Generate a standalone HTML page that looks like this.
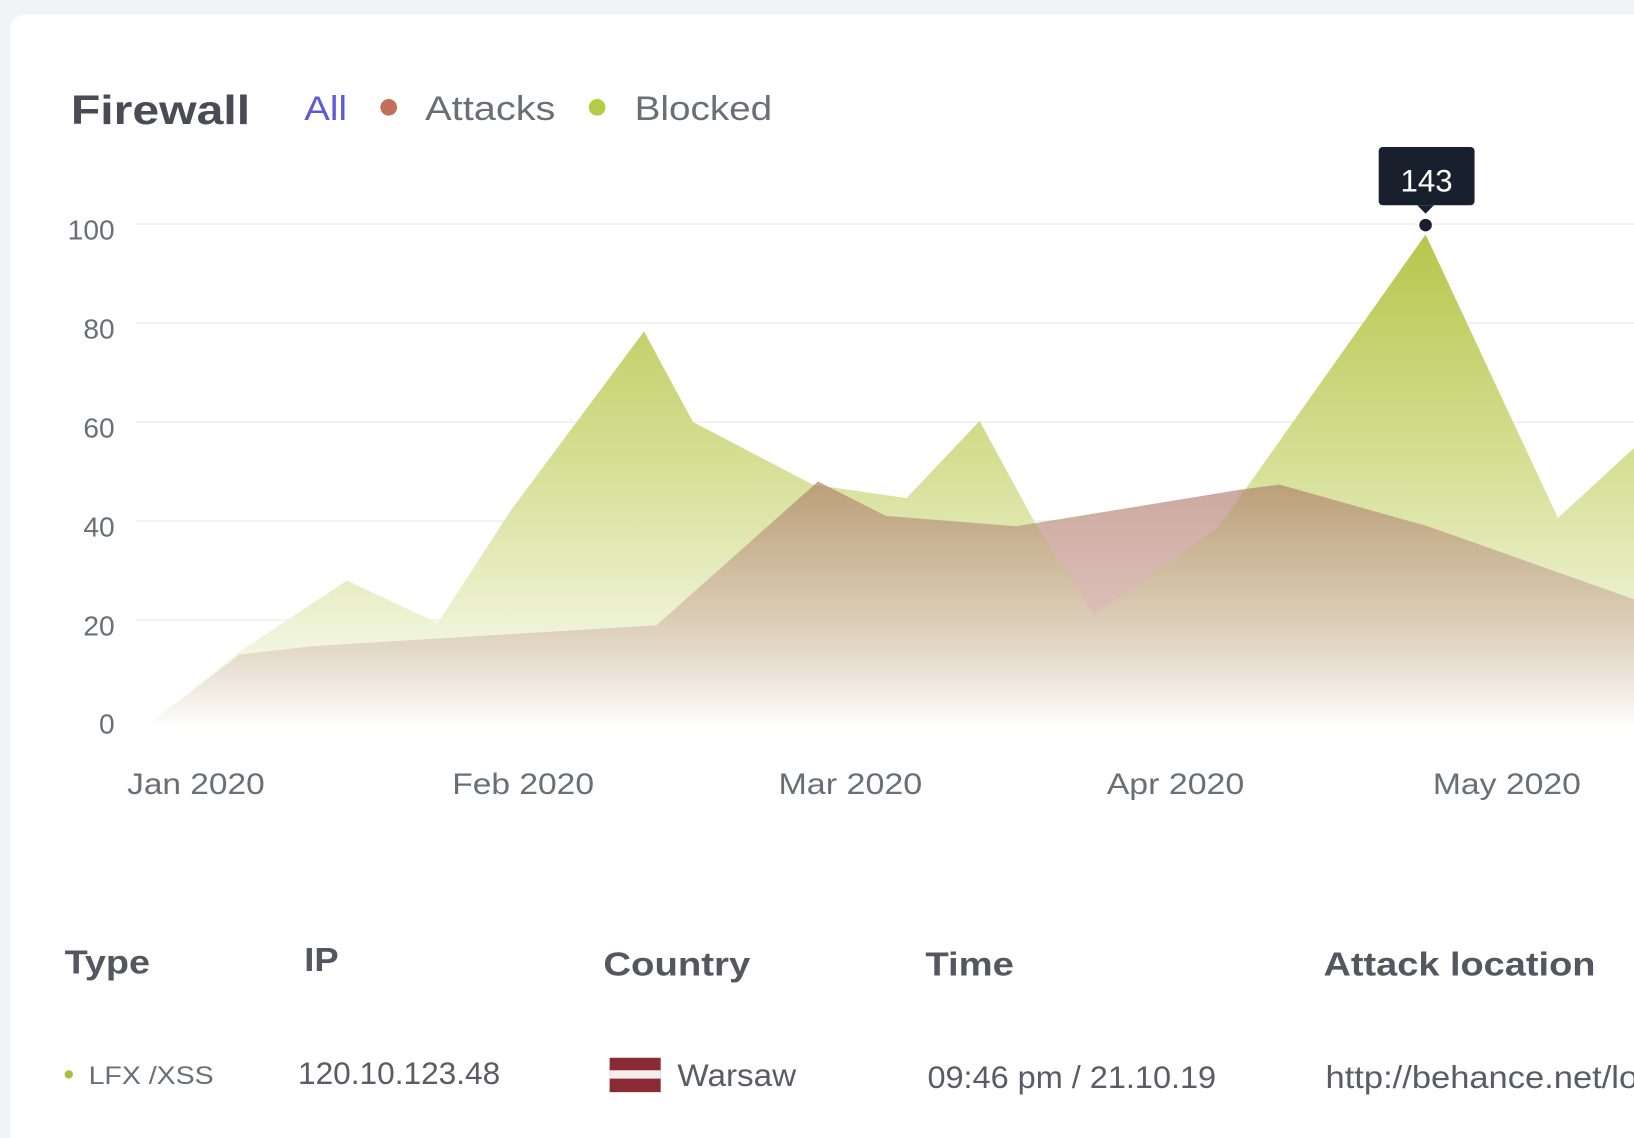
<!DOCTYPE html>
<html><head><meta charset="utf-8"><style>
html,body{margin:0;padding:0;background:#f2f3f5;}
svg{display:block}
</style></head><body>
<svg width="1634" height="1138" viewBox="0 0 1568 1092" preserveAspectRatio="none" xmlns="http://www.w3.org/2000/svg" font-family="Liberation Sans, sans-serif">
<defs>
<linearGradient id="gy" gradientUnits="userSpaceOnUse" x1="0" y1="220" x2="0" y2="700">
<stop offset="0" stop-color="#b5c64a"/><stop offset="0.5" stop-color="#d7e19a"/><stop offset="1" stop-color="#ffffff"/></linearGradient>
<linearGradient id="b" gradientUnits="userSpaceOnUse" x1="0" y1="460" x2="0" y2="700">
<stop offset="0" stop-color="#b0876c" stop-opacity="0.75"/><stop offset="0.55" stop-color="#d2bca8" stop-opacity="0.7"/><stop offset="1" stop-color="#ffffff" stop-opacity="0.9"/></linearGradient>
</defs>
<rect x="10" y="14" width="1580" height="1100" rx="14" fill="#ffffff"/>
<text x="68" y="119" font-size="39" font-weight="bold" fill="#4a4b55" textLength="172" lengthAdjust="spacingAndGlyphs">Firewall</text>
<text x="292" y="115" font-size="33" fill="#5b5bd6" textLength="41" lengthAdjust="spacingAndGlyphs">All</text>
<circle cx="373" cy="103" r="8" fill="#c0705a"/>
<text x="408" y="115" font-size="33" fill="#6b6d78" textLength="125" lengthAdjust="spacingAndGlyphs">Attacks</text>
<circle cx="573" cy="103" r="8" fill="#b3cc45"/>
<text x="609" y="115" font-size="33" fill="#6b6d78" textLength="132" lengthAdjust="spacingAndGlyphs">Blocked</text>
<g stroke="#f1f2f4" stroke-width="2">
<line x1="130" y1="215" x2="1568" y2="215"/><line x1="130" y1="310" x2="1568" y2="310"/>
<line x1="130" y1="405" x2="1568" y2="405"/><line x1="130" y1="500" x2="1568" y2="500"/>
<line x1="130" y1="595" x2="1568" y2="595"/>
</g>
<g font-size="27" fill="#6b6d78" text-anchor="end">
<text x="110" y="230">100</text><text x="110" y="325">80</text><text x="110" y="420">60</text>
<text x="110" y="515">40</text><text x="110" y="610">20</text><text x="110" y="704">0</text>
</g>
<path d="M145,693 L230,625 L333,557 L420,598 L490,490 L618,318 L665,405 L780,465 L870,478 L940,404 L995,505 L1050,590 L1170,505 L1368,225 L1495,497 L1568,430 L1568,700 L145,700Z" fill="url(#gy)"/>
<path d="M145,693 L230,628 L300,620 L630,600 L785,462 L850,495 L975,505 L1190,470 L1228,465 L1370,505 L1568,575 L1568,700 L145,700Z" fill="url(#b)"/>
<path d="M995,505 L1050,590 L1170,505 L1190,470 Z" fill="#d8aab0" opacity="0.45"/>
<g font-size="28" fill="#6b6d78" text-anchor="middle" lengthAdjust="spacingAndGlyphs">
<text x="188" y="762" textLength="132" lengthAdjust="spacingAndGlyphs">Jan 2020</text><text x="502" y="762" textLength="136" lengthAdjust="spacingAndGlyphs">Feb 2020</text><text x="816" y="762" textLength="138" lengthAdjust="spacingAndGlyphs">Mar 2020</text>
<text x="1128" y="762" textLength="132" lengthAdjust="spacingAndGlyphs">Apr 2020</text><text x="1446" y="762" textLength="142" lengthAdjust="spacingAndGlyphs">May 2020</text>
</g>
<rect x="1323" y="141" width="92" height="56" rx="4" fill="#18202e"/>
<path d="M1360,197 L1368,205 L1376,197Z" fill="#18202e"/>
<text x="1369" y="184" font-size="30" fill="#fff" text-anchor="middle">143</text>
<circle cx="1368" cy="216" r="7" fill="#18202e" stroke="#fff" stroke-width="2"/>
<g font-size="32" font-weight="bold" fill="#55565f">
<text x="62" y="934" textLength="82" lengthAdjust="spacingAndGlyphs">Type</text><text x="292" y="932" textLength="33" lengthAdjust="spacingAndGlyphs">IP</text><text x="579" y="936" textLength="141" lengthAdjust="spacingAndGlyphs">Country</text>
<text x="888" y="936" textLength="85" lengthAdjust="spacingAndGlyphs">Time</text><text x="1270" y="936" textLength="261" lengthAdjust="spacingAndGlyphs">Attack location</text>
</g>
<circle cx="66" cy="1031" r="4" fill="#a8c040"/>
<text x="85" y="1040" font-size="24" fill="#6b6d78" textLength="120" lengthAdjust="spacingAndGlyphs">LFX /XSS</text>
<g font-size="30" fill="#5a5b65">
<text x="286" y="1040" textLength="194" lengthAdjust="spacingAndGlyphs">120.10.123.48</text>
<text x="650" y="1042" textLength="114" lengthAdjust="spacingAndGlyphs">Warsaw</text>
<text x="890" y="1044" textLength="277" lengthAdjust="spacingAndGlyphs">09:46 pm / 21.10.19</text>
<text x="1272" y="1044" textLength="300" lengthAdjust="spacingAndGlyphs">http://behance.net/lo</text>
</g>
<rect x="585" y="1015" width="49" height="33" fill="#8a2a33"/>
<rect x="585" y="1027" width="49" height="8" fill="#f4eeee"/>
</svg>
</body></html>
